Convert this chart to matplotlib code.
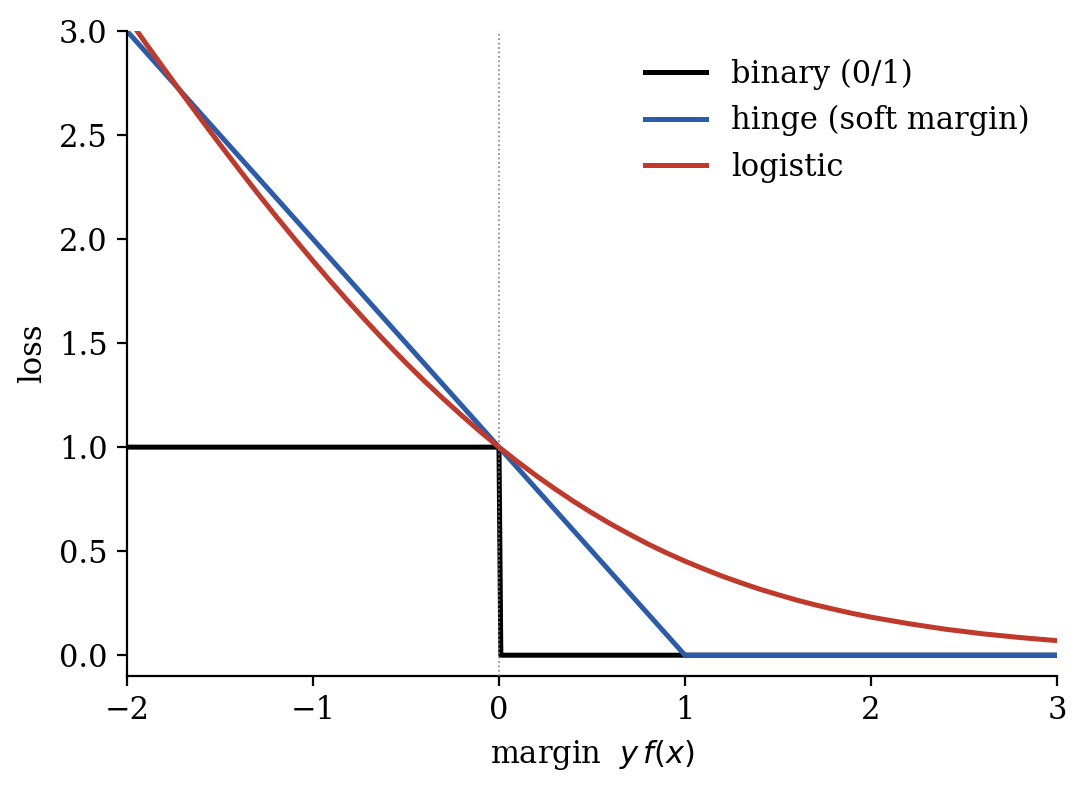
import numpy as np
import matplotlib as mpl
mpl.use("Agg")
import matplotlib.pyplot as plt

# margin values and the three losses
binary_x = [-2.0, 0.0, 0.01, 3.0]
binary_y = [1.0, 1.0, 0.0, 0.0]

hinge_x = [-2.0, 1.0, 3.0]
hinge_y = [3.0, 0.0, 0.0]

logistic_x = [-2.0, -1.9, -1.8, -1.7, -1.6, -1.5, -1.4, -1.3, -1.2, -1.1,
              -1.0, -0.9, -0.8, -0.7, -0.6, -0.5, -0.4, -0.3, -0.2, -0.1,
              0.0, 0.1, 0.2, 0.3, 0.4, 0.5, 0.6, 0.7, 0.8, 0.9,
              1.0, 1.1, 1.2, 1.3, 1.4, 1.5, 1.6, 1.7, 1.8, 1.9,
              2.0, 2.2, 2.4, 2.6, 2.8, 3.0]
logistic_y = [3.069, 2.942, 2.818, 2.695, 2.574, 2.455, 2.338, 2.223, 2.111, 2.002,
              1.895, 1.791, 1.690, 1.592, 1.497, 1.405, 1.317, 1.233, 1.152, 1.074,
              1.000, 0.930, 0.863, 0.800, 0.740, 0.684, 0.631, 0.582, 0.535, 0.492,
              0.452, 0.415, 0.380, 0.348, 0.318, 0.291, 0.265, 0.242, 0.221, 0.201,
              0.183, 0.152, 0.125, 0.103, 0.085, 0.070]

plt.rcParams['font.family'] = 'DejaVu Serif'
plt.rcParams['font.size'] = 11
plt.rcParams['mathtext.fontset'] = 'dejavusans'

fig = plt.figure(figsize=(5.435, 3.945), dpi=200)
ax = fig.add_axes([0.1168, 0.1432, 0.8556, 0.8175])

ax.plot(binary_x, binary_y, color='black', lw=1.8, label='binary (0/1)')
ax.plot(hinge_x, hinge_y, color='#2b5cab', lw=1.8, label='hinge (soft margin)')
ax.plot(logistic_x, logistic_y, color='#c0392b', lw=1.8, label='logistic')
ax.axvline(0, color='gray', lw=0.6, ls=':', zorder=5)

ax.set_xlim(-2, 3)
ax.set_ylim(-0.1, 3.0)
ax.set_xticks([-2, -1, 0, 1, 2, 3])
ax.set_yticks([0.0, 0.5, 1.0, 1.5, 2.0, 2.5, 3.0])
ax.set_xlabel(r'margin  $y\,f(x)$')
ax.set_ylabel('loss')
ax.spines['top'].set_visible(False)
ax.spines['right'].set_visible(False)
ax.legend(frameon=False, loc='upper right')

fig.savefig('out.png', dpi=200)
